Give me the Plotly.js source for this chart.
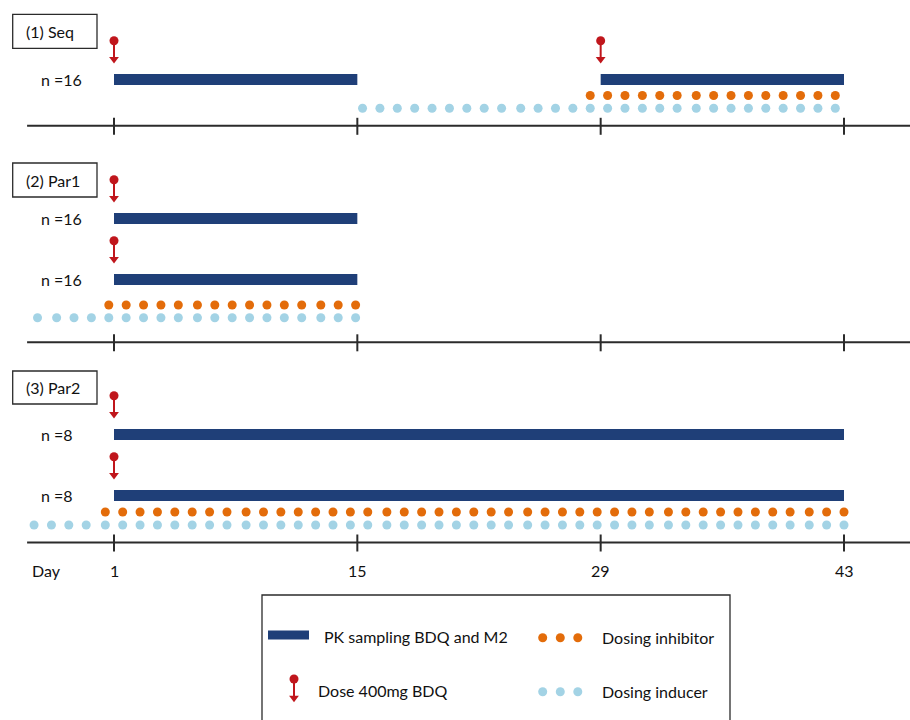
<!DOCTYPE html>
<html>
<head>
<meta charset="utf-8">
<script src="https://cdn.plot.ly/plotly-3.0.1.min.js"></script>
<style>html,body{margin:0;padding:0;background:#fff;}#chart{width:910px;height:720px;}</style>
</head>
<body>
<div id="chart"></div>
<script>
// ---------------- DATA ----------------
const tickDays = [1, 15, 29, 43];
const tickLabels = ['1', '15', '29', '43'];
const axisLabel = 'Day';
const panelLabels = ['(1) Seq', '(2) Par1', '(3) Par2'];

// (1) Seq
const seqN = [16];
const seqPkStart = [1, 29];
const seqPkEnd = [15, 43];
const seqDose = [1, 29];
const seqInhibitor = [28.4, 29.4, 30.4, 31.4, 32.4, 33.4, 34.5, 35.5, 36.5, 37.5, 38.5, 39.5, 40.5, 41.5, 42.5];
const seqInducer = [15.3, 16.3, 17.3, 18.3, 19.3, 20.3, 21.3, 22.3, 23.3, 24.4, 25.4, 26.4, 27.4, 28.4, 29.4, 30.4, 31.4, 32.4, 33.4, 34.5, 35.5, 36.5, 37.5, 38.5, 39.5, 40.5, 41.5, 42.5];

// (2) Par1
const par1N = [16, 16];
const par1PkStart = [1];
const par1PkEnd = [15];
const par1Dose = [1];
const par1Inhibitor = [0.7, 1.7, 2.7, 3.7, 4.7, 5.8, 6.8, 7.8, 8.8, 9.8, 10.8, 11.8, 12.9, 13.9, 14.9];
const par1Inducer = [-3.4, -2.3, -1.3, -0.3, 0.7, 1.7, 2.7, 3.7, 4.7, 5.8, 6.8, 7.8, 8.8, 9.8, 10.8, 11.8, 12.9, 13.9, 14.9];

// (3) Par2
const par2N = [8, 8];
const par2PkStart = [1];
const par2PkEnd = [43];
const par2Dose = [1];
const par2Inhibitor = [0.5, 1.5, 2.5, 3.5, 4.5, 5.5, 6.5, 7.5, 8.6, 9.6, 10.6, 11.6, 12.6, 13.6, 14.6, 15.6, 16.7, 17.7, 18.7, 19.7, 20.7, 21.7, 22.7, 23.7, 24.8, 25.8, 26.8, 27.8, 28.8, 29.8, 30.8, 31.8, 32.9, 33.9, 34.9, 35.9, 36.9, 37.9, 38.9, 39.9, 41.0, 42.0, 43.0];
const par2Inducer = [-3.6, -2.6, -1.6, -0.6, 0.5, 1.5, 2.5, 3.5, 4.5, 5.5, 6.5, 7.5, 8.6, 9.6, 10.6, 11.6, 12.6, 13.6, 14.6, 15.6, 16.7, 17.7, 18.7, 19.7, 20.7, 21.7, 22.7, 23.7, 24.8, 25.8, 26.8, 27.8, 28.8, 29.8, 30.8, 31.8, 32.9, 33.9, 34.9, 35.9, 36.9, 37.9, 38.9, 39.9, 41.0, 42.0, 43.0];

const legendLabels = ['PK sampling BDQ and M2', 'Dosing inhibitor', 'Dose 400mg BDQ', 'Dosing inducer'];

// ---------------- STYLE / LAYOUT ----------------
const C = {
  navy: '#1F3F78', red: '#C0161C', orange: '#E36C0A', blue: '#A3D3E5',
  axis: '#2B2B2B', text: '#111111'
};
const FONT = 'Lato, "Open Sans", sans-serif';
const FS = 16;
// vertical placement (page pixel rows) for each panel
const panels = [
  {label: panelLabels[0], n: seqN, pkStart: seqPkStart, pkEnd: seqPkEnd, dose: seqDose, inh: seqInhibitor, ind: seqInducer,
   box: [14.3, 48.3], lanes: [79.5], inhY: 95.5, indY: 108.3, axisY: 125.8},
  {label: panelLabels[1], n: par1N, pkStart: par1PkStart, pkEnd: par1PkEnd, dose: par1Dose, inh: par1Inhibitor, ind: par1Inducer,
   box: [163, 197], lanes: [218.5, 279.5], inhY: 305, indY: 317.7, axisY: 342.3},
  {label: panelLabels[2], n: par2N, pkStart: par2PkStart, pkEnd: par2PkEnd, dose: par2Dose, inh: par2Inhibitor, ind: par2Inducer,
   box: [371, 404], lanes: [434.5, 495.5], inhY: 512, indY: 525, axisY: 542.5}
];
const axisFrom = -4, axisTo = 48;
const tickHalf = [-8, 9];
const barThick = 11;
const circleOff = -38.8, triOff = -20.3;
const labelRowY = 570;

const traces = [];
const shapes = [];
const annotations = [];

function txt(x, y, text, xanchor, xref) {
  annotations.push({x: x, y: y, xref: xref || 'x2', yref: 'y', text: text, showarrow: false,
    xanchor: xanchor || 'left', yanchor: 'middle', font: {family: FONT, size: FS, color: C.text}});
}

panels.forEach(p => {
  // axis line
  traces.push({type: 'scatter', mode: 'lines', x: [axisFrom, axisTo], y: [p.axisY, p.axisY],
    line: {color: C.axis, width: 2}, hoverinfo: 'skip'});
  // ticks
  const tx = [], ty = [];
  tickDays.forEach(d => { tx.push(d, d, null); ty.push(p.axisY + tickHalf[0], p.axisY + tickHalf[1], null); });
  traces.push({type: 'scatter', mode: 'lines', x: tx, y: ty, line: {color: C.axis, width: 2}, hoverinfo: 'skip'});
  // dots
  traces.push({type: 'scatter', mode: 'markers', x: p.ind, y: p.ind.map(() => p.indY),
    marker: {color: C.blue, size: 9}, hoverinfo: 'skip'});
  traces.push({type: 'scatter', mode: 'markers', x: p.inh, y: p.inh.map(() => p.inhY),
    marker: {color: C.orange, size: 9}, hoverinfo: 'skip'});
  // bars + arrows per lane
  p.lanes.forEach((ly, li) => {
    traces.push({type: 'bar', orientation: 'h', base: p.pkStart,
      x: p.pkStart.map((s, i) => p.pkEnd[i] - s), y: p.pkStart.map(() => ly),
      width: barThick, marker: {color: C.navy, line: {width: 0}}, hoverinfo: 'skip'});
    const sx = [], sy = [];
    p.dose.forEach(d => { sx.push(d, d, null); sy.push(ly + circleOff, ly + triOff, null); });
    traces.push({type: 'scatter', mode: 'lines', x: sx, y: sy, line: {color: C.red, width: 2}, hoverinfo: 'skip'});
    traces.push({type: 'scatter', mode: 'markers', x: p.dose, y: p.dose.map(() => ly + circleOff),
      marker: {color: C.red, size: 9}, hoverinfo: 'skip'});
    traces.push({type: 'scatter', mode: 'markers', x: p.dose, y: p.dose.map(() => ly + triOff),
      marker: {color: C.red, size: 8.5, symbol: 'triangle-down'}, hoverinfo: 'skip'});
    txt(39, ly, 'n =' + p.n[li], 'left');
  });
  // panel label box
  shapes.push({type: 'rect', xref: 'x2', yref: 'y', x0: 12.7, x1: 97, y0: p.box[0], y1: p.box[1],
    line: {color: C.axis, width: 1.3}, fillcolor: 'rgba(0,0,0,0)'});
  txt(24, (p.box[0] + p.box[1]) / 2, p.label, 'left');
});

// tick labels
txt(30, labelRowY, axisLabel, 'left');
tickDays.forEach((d, i) => txt(d, labelRowY, tickLabels[i], 'center', 'x'));

// legend box
shapes.push({type: 'rect', xref: 'x2', yref: 'y', x0: 262, x1: 730, y0: 595, y1: 730,
  line: {color: C.axis, width: 1.3}, fillcolor: 'rgba(0,0,0,0)'});
shapes.push({type: 'line', xref: 'x2', yref: 'y', x0: 268, x1: 309, y0: 635, y1: 635,
  line: {color: C.navy, width: 9}});
traces.push({type: 'scatter', mode: 'markers', xaxis: 'x2', x: [542.7, 560.3, 577.8], y: [637.7, 637.7, 637.7],
  marker: {color: C.orange, size: 9}, hoverinfo: 'skip'});
traces.push({type: 'scatter', mode: 'markers', xaxis: 'x2', x: [542.7, 560.3, 577.8], y: [691.7, 691.7, 691.7],
  marker: {color: C.blue, size: 9}, hoverinfo: 'skip'});
traces.push({type: 'scatter', mode: 'lines', xaxis: 'x2', x: [294, 294], y: [679, 697],
  line: {color: C.red, width: 2}, hoverinfo: 'skip'});
traces.push({type: 'scatter', mode: 'markers', xaxis: 'x2', x: [294], y: [679],
  marker: {color: C.red, size: 9}, hoverinfo: 'skip'});
traces.push({type: 'scatter', mode: 'markers', xaxis: 'x2', x: [294], y: [698],
  marker: {color: C.red, size: 8.5, symbol: 'triangle-down'}, hoverinfo: 'skip'});
txt(322, 636, legendLabels[0]);
txt(600, 637, legendLabels[1]);
txt(316, 690, legendLabels[2]);
txt(600, 691, legendLabels[3]);

const pxPerDay = (844 - 114) / 42;
const layout = {
  width: 910, height: 720,
  margin: {l: 0, r: 0, t: 0, b: 0, pad: 0},
  paper_bgcolor: '#fff', plot_bgcolor: '#fff',
  showlegend: false,
  barmode: 'overlay',
  xaxis: {range: [1 - 114 / pxPerDay, 1 + (910 - 114) / pxPerDay], visible: false, fixedrange: true},
  xaxis2: {range: [0, 910], overlaying: 'x', visible: false, fixedrange: true},
  yaxis: {range: [720, 0], visible: false, fixedrange: true},
  shapes: shapes,
  annotations: annotations,
  font: {family: FONT, size: FS, color: C.text}
};
Plotly.newPlot('chart', traces, layout, {staticPlot: true, displayModeBar: false});
</script>
</body>
</html>
